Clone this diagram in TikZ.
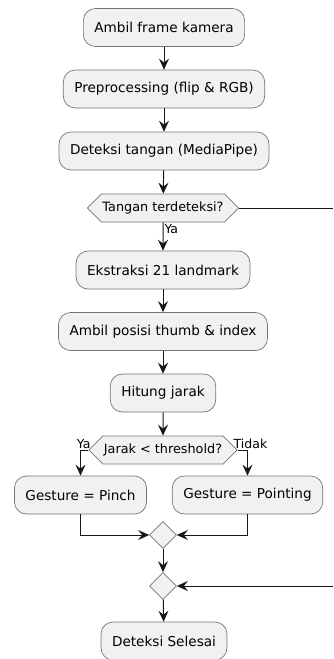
\documentclass[tikz,border=0pt]{standalone}
\usepackage{fontspec}
\setmainfont{DejaVu Sans}
\usetikzlibrary{arrows.meta,shapes.geometric,shapes.symbols}
\definecolor{actfill}{HTML}{F1F1F1}
\definecolor{actline}{HTML}{181818}
\tikzset{
  >={Stealth[length=11pt,width=10pt,inset=4pt]},
  act/.style={draw=actline!60,fill=actfill,line width=0.7pt,rounded corners=12pt,
    minimum height=38pt,inner xsep=11pt,font=\fontsize{13.6}{16}\selectfont},
  cond/.style={draw=actline!60,fill=actfill,line width=0.7pt,signal,
    signal to=west and east,minimum height=28pt,inner xsep=1pt,inner ysep=2pt,
    font=\fontsize{12.8}{15}\selectfont},
  merge/.style={draw=actline!60,fill=actfill,line width=0.7pt,diamond,
    minimum size=27pt,inner sep=0pt},
  flow/.style={draw=actline,line width=1pt},
  lbl/.style={font=\fontsize{12.5}{14}\selectfont,inner sep=1pt}
}

\begin{document}
\begin{tikzpicture}[x=1pt,y=-1pt]
      \useasboundingbox (0,0) rectangle (333,659);
      % activities
      \node[act] (frame) at (164,27.5) {Ambil frame kamera};
      \node[act] (prep) at (164,89) {Preprocessing (flip \& RGB)};
      \node[act] (detect) at (164,151) {Deteksi tangan (MediaPipe)};
      \node[cond] (hand) at (163,208) {Tangan terdeteksi?};
      \node[act] (lmk) at (163,270) {Ekstraksi 21 landmark};
      \node[act] (pos) at (163,331.5) {Ambil posisi thumb \& index};
      \node[act] (dist) at (163,393) {Hitung jarak};
      \node[cond] (thr) at (163,450) {Jarak < threshold?};
      \node[act] (pinch) at (80.5,495) {Gesture = Pinch};
      \node[act] (point) at (247.5,495) {Gesture = Pointing};
      \node[merge] (mergeA) at (163,535) {};
      \node[merge] (mergeB) at (163,586) {};
      \node[act] (done) at (164,641) {Deteksi Selesai};
      \coordinate (noOut) at (333,208);
      \coordinate (noIn) at (333,586);
      % flow
      \draw[flow,->] (frame) -- (prep);
      \draw[flow,->] (prep) -- (detect);
      \draw[flow,->] (detect) -- (hand);
      \draw[flow,->] (hand) -- node[lbl,right,pos=0.25]{Ya} (lmk);
      \draw[flow,->] (lmk) -- (pos);
      \draw[flow,->] (pos) -- (dist);
      \draw[flow,->] (dist) -- (thr);
      \draw[flow,->] (thr.west) -| node[lbl,above,pos=0.3]{Ya} (pinch.north);
      \draw[flow,->] (thr.east) -| node[lbl,above,pos=0.45,xshift=4pt]{Tidak} (point.north);
      \draw[flow,->] (pinch.south) |- (mergeA.west);
      \draw[flow,->] (point.south) |- (mergeA.east);
      \draw[flow,->] (mergeA) -- (mergeB);
      \draw[flow,->] (mergeB) -- (done);
      \draw[flow] (hand.east) -- (noOut);
      \draw[flow,->] (noIn) -- (mergeB.east);
\end{tikzpicture}
\end{document}
